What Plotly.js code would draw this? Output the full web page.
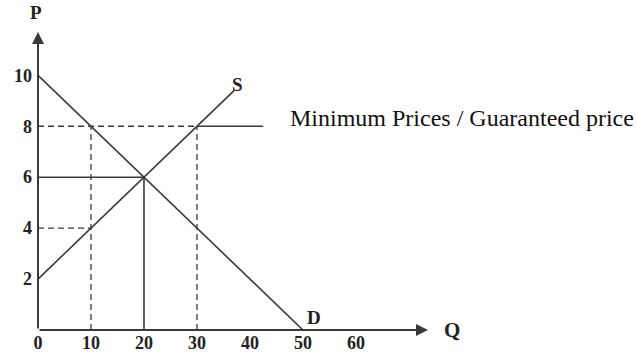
<!DOCTYPE html>
<html>
<head>
<meta charset="utf-8">
<script src="https://cdn.plot.ly/plotly-3.0.1.min.js"></script>
<style>html,body{margin:0;padding:0;background:#fff;}#chart{width:637px;height:356px;}</style>
</head>
<body>
<div id="chart"></div>
<script>
// Demand and supply schedules (quantity Q, price P)
const demandQ = [0, 50];
const demandP = [10, 0];
const supplyQ = [0, 37];
const supplyP = [2, 9.4];

// Guaranteed (minimum) price and the quantities it produces
const floorPrice = 8;
const floorQ = [30, 42.5];
const demandAtFloor = 10;
const supplyAtFloor = 30;

// Market equilibrium
const eqQ = 20;
const eqP = 6;

// Price the consumers would pay for the reduced quantity
const supplyAtLowQ = 4;

// Axis ticks
const xTicks = [0, 10, 20, 30, 40, 50, 60];
const yTicks = [2, 4, 6, 8, 10];

const lineColor = '#3a3a3a';
const solid = {color: lineColor, width: 1.6};
const dashed = {color: lineColor, width: 1.3, dash: '6px,4px'};

function seg(x, y, line) {
  return {x: x, y: y, mode: 'lines', line: line, hoverinfo: 'skip', showlegend: false, type: 'scatter'};
}

const traces = [
  seg(demandQ, demandP, solid),
  seg(supplyQ, supplyP, solid),
  // guaranteed price line
  seg([0, floorQ[0]], [floorPrice, floorPrice], dashed),
  seg(floorQ, [floorPrice, floorPrice], solid),
  // verticals at demanded / supplied quantities under the floor
  seg([demandAtFloor, demandAtFloor], [0, floorPrice], dashed),
  seg([supplyAtFloor, supplyAtFloor], [0, floorPrice], dashed),
  seg([0, demandAtFloor], [supplyAtLowQ, supplyAtLowQ], dashed),
  // equilibrium guides
  seg([0, eqQ], [eqP, eqP], solid),
  seg([eqQ, eqQ], [0, eqP], solid)
];

const serif = '"Liberation Serif", "Times New Roman", serif';
const tickFont = {family: serif, size: 18, color: '#222'};
const labelFont = {family: serif, size: 19, color: '#222'};

const layout = {
  width: 637, height: 356,
  margin: {l: 38, r: 209, t: 32, b: 26},
  paper_bgcolor: '#fff', plot_bgcolor: '#fff',
  showlegend: false,
  xaxis: {
    range: [0, 73.6], showgrid: false, zeroline: false, showline: false,
    tickvals: xTicks, ticktext: xTicks.map(v => '<b>' + v + '</b>'),
    ticks: '', tickfont: tickFont, fixedrange: true
  },
  yaxis: {
    range: [0, 11.7], showgrid: false, zeroline: false, showline: false,
    tickvals: yTicks, ticktext: yTicks.map(v => '<b>' + v + '</b>'),
    ticks: '', ticklabelstandoff: 5, tickfont: tickFont, fixedrange: true
  },
  annotations: [
    // axes drawn as arrows
    {x: 73.6, y: 0, ax: 0, ay: 0, xref: 'x', yref: 'y', axref: 'x', ayref: 'y',
     showarrow: true, arrowhead: 2, arrowsize: 1.2, arrowwidth: 2, arrowcolor: lineColor, text: ''},
    {x: 0, y: 11.7, ax: 0, ay: 0, xref: 'x', yref: 'y', axref: 'x', ayref: 'y',
     showarrow: true, arrowhead: 2, arrowsize: 1.2, arrowwidth: 2, arrowcolor: lineColor, text: ''},
    {x: 1.062, y: 0, xref: 'paper', yref: 'paper', xanchor: 'center', yanchor: 'middle',
     text: '<b>Q</b>', showarrow: false, font: {family: serif, size: 21, color: '#222'}},
    {x: -0.005, y: 1.064, xref: 'paper', yref: 'paper', xanchor: 'center', yanchor: 'middle',
     text: '<b>P</b>', showarrow: false, font: labelFont},
    {x: 37.7, y: 9.65, xref: 'x', yref: 'y', text: '<b>S</b>', showarrow: false, font: labelFont},
    {x: 52, y: 0.5, xref: 'x', yref: 'y', text: '<b>D</b>', showarrow: false, font: labelFont},
    {x: 0.64, y: 0.71, xref: 'paper', yref: 'paper', xanchor: 'left', yanchor: 'middle',
     text: 'Minimum Prices / Guaranteed price', showarrow: false,
     font: {family: serif, size: 24, color: '#111'}}
  ]
};

Plotly.newPlot('chart', traces, layout, {displayModeBar: false, staticPlot: true});
</script>
</body>
</html>
